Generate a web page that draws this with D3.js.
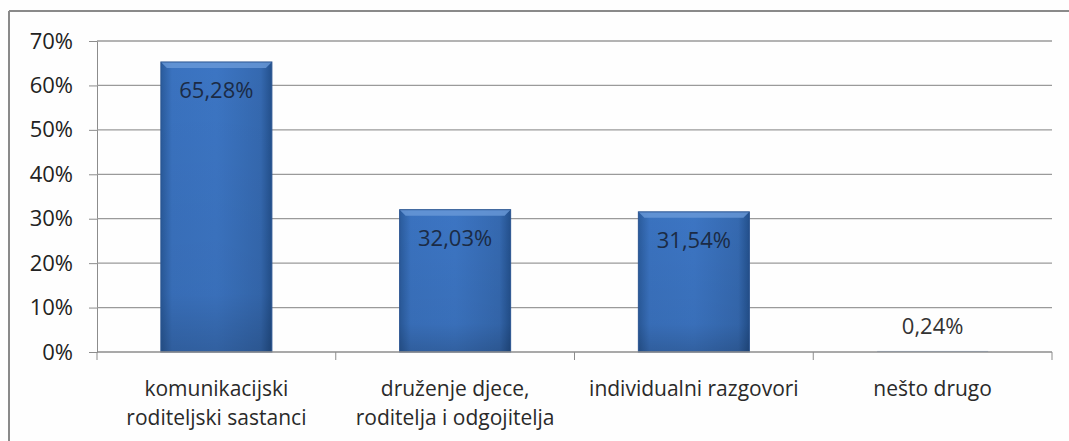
<!DOCTYPE html>
<html><head><meta charset="utf-8">
<script src="https://cdn.jsdelivr.net/npm/d3@7"></script>
<style>body{margin:0;background:#fff}svg{display:block}</style>
</head><body><svg id="c" width="1069" height="441"></svg>
<script>
const categories = [["komunikacijski","roditeljski sastanci"],["druženje djece,","roditelja i odgojitelja"],["individualni razgovori"],["nešto drugo"]];
const values = [65.28, 32.03, 31.54, 0.24];
const valueLabels = ["65,28%","32,03%","31,54%","0,24%"];
const yTicks = [0,10,20,30,40,50,60,70];

const FONT = "'Open Sans','DejaVu Sans',sans-serif";
const svg = d3.select("#c");
const W=1069,H=441;
svg.append("rect").attr("width",W).attr("height",H).attr("fill","#fefefe");
// frame (top & left visible)
svg.append("line").attr("x1",9).attr("x2",W).attr("y1",11).attr("y2",11).attr("stroke","#8a8a8a").attr("stroke-width",2);
svg.append("line").attr("x1",9).attr("x2",9).attr("y1",11).attr("y2",H).attr("stroke","#8a8a8a").attr("stroke-width",2);

const x0=97,x1=1052,yTop=41,yBot=352;
const x = d3.scaleBand().domain(d3.range(categories.length)).range([x0,x1]).paddingInner(0.535).paddingOuter(0.2675);
const xc = d3.scaleBand().domain(d3.range(categories.length)).range([x0,x1]);
const y = d3.scaleLinear().domain([0,70]).range([yBot,yTop]);

const defs = svg.append("defs");
const g = defs.append("linearGradient").attr("id","bar").attr("x1",0).attr("x2",1).attr("y1",0).attr("y2",0);
g.append("stop").attr("offset","0%").attr("stop-color","#2a5b9c");
g.append("stop").attr("offset","10%").attr("stop-color","#3a72bf");
g.append("stop").attr("offset","50%").attr("stop-color","#3c75c3");
g.append("stop").attr("offset","90%").attr("stop-color","#3569b0");
g.append("stop").attr("offset","100%").attr("stop-color","#23508c");
const gv = defs.append("linearGradient").attr("id","barv").attr("x1",0).attr("x2",0).attr("y1",0).attr("y2",1);
gv.append("stop").attr("offset","0%").attr("stop-color","#000").attr("stop-opacity",0);
gv.append("stop").attr("offset","80%").attr("stop-color","#000").attr("stop-opacity",0.05);
gv.append("stop").attr("offset","100%").attr("stop-color","#000").attr("stop-opacity",0.18);

// y axis
const yAxis = d3.axisLeft(y).tickValues(yTicks).tickSize(8).tickFormat(d=>d+"%");
const ya = svg.append("g").attr("transform",`translate(${x0},0)`).call(yAxis);
ya.select(".domain").attr("stroke","#8c8c8c");
ya.selectAll(".tick line").attr("stroke","#8c8c8c");
ya.selectAll(".tick text").attr("x",-24).attr("font-family",FONT).attr("font-size",22).attr("fill","#222");
// gridlines
svg.append("g").selectAll("line").data(yTicks.filter(d=>d>0)).join("line")
  .attr("x1",x0).attr("x2",x1).attr("y1",d=>y(d)).attr("y2",d=>y(d)).attr("stroke","#9a9a9a").attr("stroke-width",1.3);

// bars
const bars = svg.append("g");
values.forEach((v,i)=>{
  const bx=x(i), bw=x.bandwidth(), by=y(v), bh=yBot-y(v);
  bars.append("rect").attr("x",bx).attr("y",by).attr("width",bw).attr("height",Math.max(bh,1)).attr("fill", v<1?"#a8c0e0":"url(#bar)");
  if(bh>10){
    bars.append("rect").attr("x",bx).attr("y",by).attr("width",bw).attr("height",bh).attr("fill","url(#barv)");
    bars.append("path").attr("d",`M${bx},${by}L${bx+bw},${by}L${bx+bw-6},${by+6}L${bx+6},${by+6}Z`).attr("fill","#6a9ad8").attr("opacity",0.8);
    bars.append("rect").attr("x",bx).attr("y",by).attr("width",bw).attr("height",bh).attr("fill","none").attr("stroke","#2b5591").attr("stroke-width",1);
  }
});

// x axis
svg.append("line").attr("x1",x0).attr("x2",x1).attr("y1",yBot).attr("y2",yBot).attr("stroke","#8c8c8c").attr("stroke-width",1.3);
const bounds = d3.range(categories.length+1).map(i=> i<categories.length? xc(i): x1);
svg.append("g").selectAll("line").data(bounds).join("line")
  .attr("x1",d=>d).attr("x2",d=>d).attr("y1",yBot).attr("y2",yBot+8).attr("stroke","#8c8c8c");

// value labels
svg.append("g").selectAll("text").data(values).join("text")
  .attr("x",(d,i)=>x(i)+x.bandwidth()/2)
  .attr("y",d=> d<1 ? y(d)-17 : y(d)+36)
  .attr("text-anchor","middle").attr("font-family",FONT).attr("font-size",22)
  .attr("fill",d=>d<1?"#333":"#1b2b45").text((d,i)=>valueLabels[i]);

// category labels
const cl = svg.append("g");
categories.forEach((lines,i)=>{
  const cx = xc(i)+xc.bandwidth()/2;
  const t = cl.append("text").attr("x",cx).attr("y",396).attr("text-anchor","middle")
    .attr("font-family",FONT).attr("font-size",21).attr("fill","#2a2a2a");
  lines.forEach((l,j)=>t.append("tspan").attr("x",cx).attr("dy",j?29:0).text(l));
});
</script></body></html>
